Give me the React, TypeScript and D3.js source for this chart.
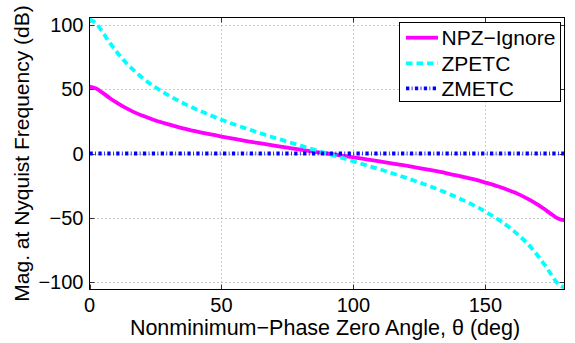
import React from 'react';
import * as d3 from 'd3';

// angle of the nonminimum-phase zero (deg), denser near the ends where the curves bend
const theta = [0, 2.5, 5, 7.5, 10, 12.5, 15, 17.5, 20, 25, 30, 35, 40, 45, 50, 55, 60, 65, 70, 75, 80, 85, 90,
  95, 100, 105, 110, 115, 120, 125, 130, 135, 140, 145, 150, 155, 160, 162.5, 165, 167.5, 170, 172.5, 175, 177.5, 180];

const npzIgnore = [52.1, 50.6, 47.2, 43.4, 39.9, 36.8, 34.1, 31.6, 29.5, 25.7, 22.6, 19.8, 17.4, 15.2, 13.2, 11.3, 9.5, 7.8, 6.2, 4.6, 3.0, 1.5, 0,
  -1.5, -3.0, -4.6, -6.2, -7.8, -9.5, -11.3, -13.2, -15.2, -17.4, -19.8, -22.6, -25.7, -29.5, -31.6, -34.1, -36.8, -39.9, -43.4, -47.2, -50.6, -52.1];

const zpetc = [104.2, 101.2, 94.3, 86.7, 79.8, 73.6, 68.1, 63.3, 59.0, 51.5, 45.2, 39.7, 34.8, 30.4, 26.3, 22.5, 19.0, 15.6, 12.3, 9.2, 6.1, 3.0, 0,
  -3.0, -6.1, -9.2, -12.3, -15.6, -19.0, -22.5, -26.3, -30.4, -34.8, -39.7, -45.2, -51.5, -59.0, -63.3, -68.1, -73.6, -79.8, -86.7, -94.3, -101.2, -104.2];

const zmetc = [0, 0, 0, 0, 0, 0, 0, 0, 0, 0, 0, 0, 0, 0, 0, 0, 0, 0, 0, 0, 0, 0, 0,
  0, 0, 0, 0, 0, 0, 0, 0, 0, 0, 0, 0, 0, 0, 0, 0, 0, 0, 0, 0, 0, 0];

const xTicks = [0, 50, 100, 150];
const yTicks = [-100, -50, 0, 50, 100];

const series = [
  { name: 'NPZ\u2212Ignore', values: npzIgnore, color: '#ff00ff', dash: null },
  { name: 'ZPETC', values: zpetc, color: '#00ffff', dash: '6.5,4' },
  { name: 'ZMETC', values: zmetc, color: '#0000ff', dash: '3.3,2.4,0.8,2.4' },
];

const W = 575;
const H = 343;
const left = 89.5, right = 564.5, top = 17.5, bottom = 289.5;
const font = 'Liberation Sans, Arial, Helvetica, sans-serif';

export default function App() {
  const x = d3.scaleLinear().domain([0, 180]).range([left, right]);
  const y = d3.scaleLinear().domain([-105.8, 105.8]).range([bottom, top]);

  const line = (vals: number[]) =>
    d3.line<number>()
      .x((d, i) => x(theta[i]))
      .y(d => y(d))
      .curve(d3.curveMonotoneX)(vals) || '';

  const lg = { x0: 399.5, y0: 22.5, w: 161, h: 79, rowY: [37.7, 63.3, 88.3] };

  return (
    <svg width={W} height={H} style={{ position: 'absolute', left: 0, top: 0, background: '#fff' }}
      fontFamily={font}>
      <defs>
        <clipPath id="plot">
          <rect x={left} y={top} width={right - left} height={bottom - top} />
        </clipPath>
      </defs>

      {/* grid */}
      {xTicks.filter(t => t > 0).map(t => (
        <line key={'gx' + t} x1={Math.round(x(t)) + 0.5} x2={Math.round(x(t)) + 0.5} y1={top} y2={bottom}
          stroke="#999" strokeWidth={1} strokeDasharray="1,3" />
      ))}
      {yTicks.map(t => (
        <line key={'gy' + t} x1={left} x2={right} y1={Math.round(y(t)) + 0.5} y2={Math.round(y(t)) + 0.5}
          stroke="#999" strokeWidth={1} strokeDasharray="1,3" />
      ))}

      {/* ticks */}
      {xTicks.map(t => (
        <g key={'tx' + t}>
          <line x1={Math.round(x(t)) + 0.5} x2={Math.round(x(t)) + 0.5} y1={bottom} y2={bottom - 5} stroke="#333" />
          <line x1={Math.round(x(t)) + 0.5} x2={Math.round(x(t)) + 0.5} y1={top} y2={top + 5} stroke="#333" />
          <text x={x(t)} y={312} fontSize={20} textAnchor="middle" fill="#000">{t}</text>
        </g>
      ))}
      {yTicks.map(t => (
        <g key={'ty' + t}>
          <line x1={left} x2={left + 5} y1={Math.round(y(t)) + 0.5} y2={Math.round(y(t)) + 0.5} stroke="#333" />
          <line x1={right} x2={right - 5} y1={Math.round(y(t)) + 0.5} y2={Math.round(y(t)) + 0.5} stroke="#333" />
          <text x={83.5} y={y(t) + 7} fontSize={20} textAnchor="end" fill="#000">
            {t < 0 ? '\u2212' + Math.abs(t) : t}
          </text>
        </g>
      ))}

      {/* series */}
      <g clipPath="url(#plot)">
        {series.map(s => (
          <path key={s.name} d={line(s.values)} fill="none" stroke={s.color} strokeWidth={3.8}
            strokeDasharray={s.dash || undefined} />
        ))}
      </g>

      {/* frame */}
      <rect x={left} y={top} width={right - left} height={bottom - top} fill="none" stroke="#000" strokeWidth={1} />

      {/* axis labels */}
      <text x={(left + right) / 2 - 2} y={335} fontSize={21.5} textAnchor="middle" fill="#000">
        Nonminimum{'\u2212'}Phase Zero Angle, {'\u03b8'} (deg)
      </text>
      <text transform={`translate(29, ${(top + bottom) / 2}) rotate(-90)`} fontSize={21} textAnchor="middle" fill="#000">
        Mag. at Nyquist Frequency (dB)
      </text>

      {/* legend */}
      <rect x={lg.x0} y={lg.y0} width={lg.w} height={lg.h} fill="#fff" stroke="#000" strokeWidth={1} />
      {series.map((s, i) => (
        <g key={'lg' + s.name}>
          <line x1={406} x2={438} y1={lg.rowY[i]} y2={lg.rowY[i]} stroke={s.color} strokeWidth={3.8}
            strokeDasharray={s.dash || undefined} />
          <text x={441.5} y={lg.rowY[i] + 7.5} fontSize={21} fill="#000">{s.name}</text>
        </g>
      ))}
    </svg>
  );
}
